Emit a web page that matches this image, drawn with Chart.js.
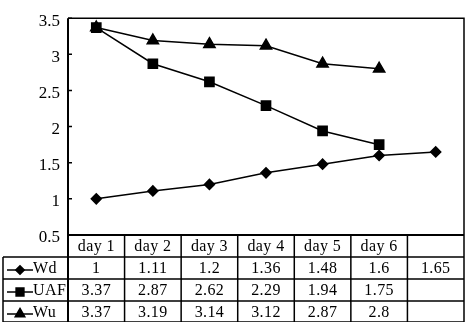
<!DOCTYPE html>
<html><head><meta charset="utf-8">
<script src="https://cdn.jsdelivr.net/npm/chart.js@4"></script>
<style>html,body{margin:0;padding:0;background:#fff}#c{display:block}</style>
</head><body>
<canvas id="c" width="472" height="322"></canvas>
<script>
const categories = ["day 1","day 2","day 3","day 4","day 5","day 6",""];
const seriesNames = ["Wd","UAF","Wu"];
const wd = [1,1.11,1.2,1.36,1.48,1.6,1.65];
const uaf = [3.37,2.87,2.62,2.29,1.94,1.75,null];
const wu = [3.37,3.19,3.14,3.12,2.87,2.8,null];
const yMin = 0.5, yMax = 3.5, yStep = 0.5;

const FAMILY = '"Liberation Serif", "Times New Roman", serif';
const FONT = '16px ' + FAMILY;
const seriesData = [wd, uaf, wu];
const markers = ['rectRot','rect','triangle'];
const markerSizes = [5, 6.5, 6.5];

const tablePlugin = {
  id: 'tablePlugin',
  afterDraw(chart) {
    const ctx = chart.ctx;
    const a = chart.chartArea;
    const xs = chart.scales.x;
    const ys = chart.scales.y;
    const n = categories.length;
    const colW = (a.right - a.left) / n;
    const rowH = 22;
    const leftX = 3;
    const bottom = a.bottom + rowH * 4 - 1;
    ctx.save();
    ctx.strokeStyle = '#000';
    // plot frame
    ctx.lineWidth = 1.5;
    ctx.beginPath();
    ctx.moveTo(a.left, a.top); ctx.lineTo(a.right, a.top); ctx.lineTo(a.right, bottom);
    ctx.stroke();
    ctx.lineWidth = 2;
    ctx.beginPath();
    ctx.moveTo(a.left, a.top); ctx.lineTo(a.left, bottom);
    ctx.moveTo(a.left, a.bottom); ctx.lineTo(a.right, a.bottom);
    ctx.stroke();
    // inward y ticks
    ctx.lineWidth = 1.5;
    ctx.beginPath();
    ys.ticks.forEach(t => {
      const y = ys.getPixelForValue(t.value);
      ctx.moveTo(a.left, y); ctx.lineTo(a.left + 4, y);
    });
    ctx.stroke();
    // table grid
    ctx.lineWidth = 1.5;
    ctx.beginPath();
    for (let r = 1; r <= 4; r++) {
      const y = a.bottom + rowH * r - (r === 4 ? 1 : 0);
      ctx.moveTo(leftX, y); ctx.lineTo(a.right, y);
    }
    ctx.moveTo(leftX, a.bottom + rowH); ctx.lineTo(leftX, bottom);
    for (let i = 1; i < n; i++) {
      const x = a.left + colW * i;
      ctx.moveTo(x, a.bottom); ctx.lineTo(x, bottom);
    }
    ctx.stroke();
    // text
    ctx.fillStyle = '#000';
    ctx.font = FONT;
    ctx.letterSpacing = '0.4px';
    ctx.textAlign = 'center';
    ctx.textBaseline = 'middle';
    for (let i = 0; i < n; i++) {
      const cx = xs.getPixelForValue(i);
      ctx.fillText(categories[i], cx, a.bottom + rowH / 2 + 1);
      for (let s = 0; s < seriesData.length; s++) {
        const v = seriesData[s][i];
        if (v !== null && v !== undefined) {
          ctx.fillText(String(v), cx, a.bottom + rowH * (s + 1.5) + 1);
        }
      }
    }
    // legend keys
    for (let s = 0; s < seriesNames.length; s++) {
      const cy = a.bottom + rowH * (s + 1.5);
      ctx.lineWidth = 1.5;
      ctx.beginPath(); ctx.moveTo(7, cy + 2); ctx.lineTo(33, cy + 2); ctx.stroke();
      Chart.helpers.drawPoint(ctx, {pointStyle: markers[s], radius: markerSizes[s] * 0.85, rotation: 0, borderWidth: 1}, 20, cy + 2);
      ctx.fill();
      ctx.textAlign = 'left';
      ctx.fillText(seriesNames[s], 33, cy + 1);
    }
    ctx.restore();
  }
};

new Chart(document.getElementById('c'), {
  type: 'line',
  data: {
    labels: categories,
    datasets: seriesData.map((d, i) => ({
      label: seriesNames[i],
      data: d,
      borderColor: '#000',
      backgroundColor: '#000',
      borderWidth: 1.5,
      pointStyle: markers[i],
      pointRadius: markerSizes[i],
      pointBackgroundColor: '#000',
      pointBorderColor: '#000',
      tension: 0,
      spanGaps: false
    }))
  },
  options: {
    responsive: false,
    animation: false,
    devicePixelRatio: 1,
    layout: {padding: {left: 0, right: 5, top: 12, bottom: 87}},
    plugins: {legend: {display: false}, tooltip: {enabled: false}},
    scales: {
      x: {type: 'category', offset: true, display: false},
      y: {
        min: yMin, max: yMax,
        afterFit(scale) { scale.width = 68; },
        border: {display: false},
        grid: {display: false, drawOnChartArea: false, drawTicks: false},
        ticks: {
          stepSize: yStep, color: '#000', padding: 8, labelOffset: 3,
          font: {family: FAMILY, size: 17},
          callback: v => String(Math.round(v * 10) / 10)
        }
      }
    }
  },
  plugins: [tablePlugin]
});
</script>
</body></html>
